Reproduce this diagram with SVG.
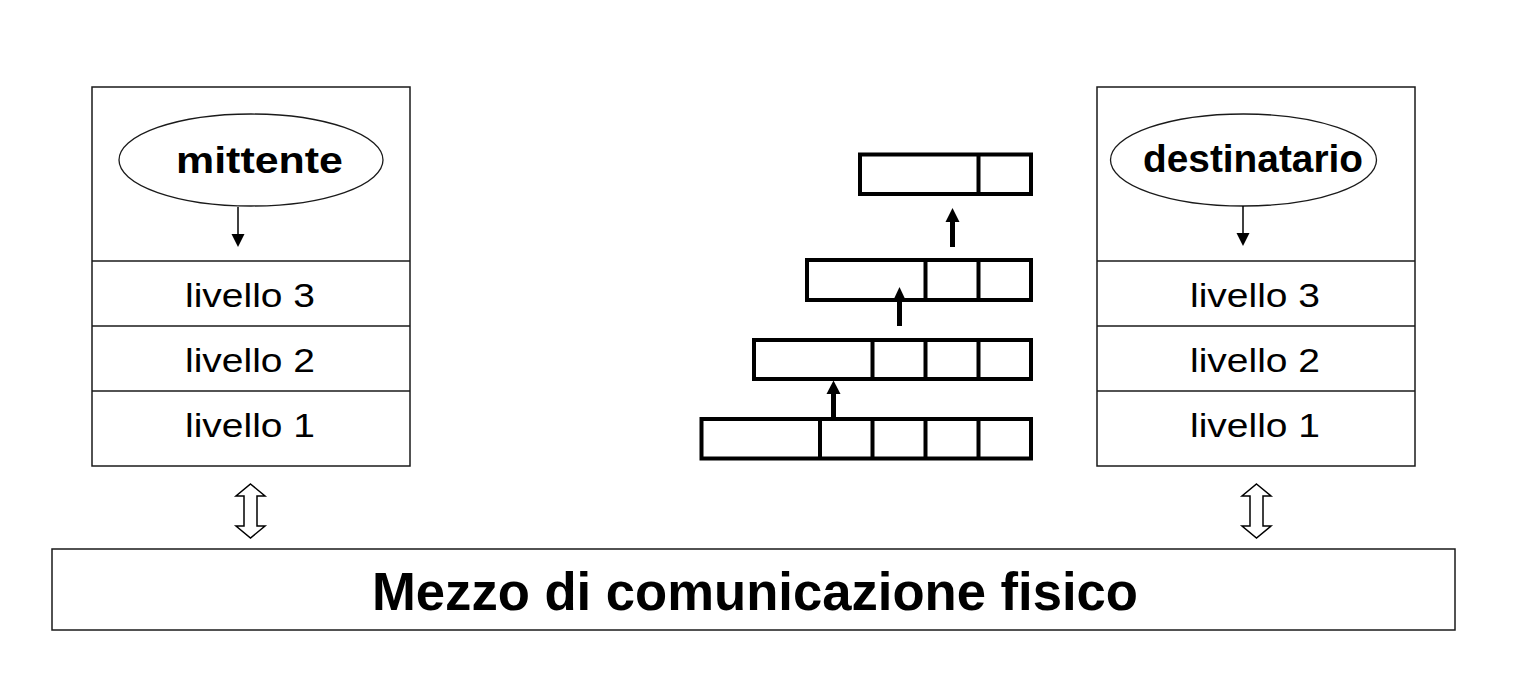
<svg xmlns="http://www.w3.org/2000/svg" width="1526" height="676" viewBox="0 0 1526 676">
<style>
.box{fill:#fff;stroke:#1a1a1a;stroke-width:1.5}
.ell{fill:#fff;stroke:#1a1a1a;stroke-width:1.3}
.lbl{font-family:"Liberation Sans",Arial,sans-serif;font-size:34px;fill:#000;text-anchor:middle}
.bold{font-family:"Liberation Sans",Arial,sans-serif;font-weight:bold;fill:#000}
.pkt{fill:#fff;stroke:#000;stroke-width:4}
.thin{stroke:#000;stroke-width:1.5;fill:none}
.thick{stroke:#000;stroke-width:5;fill:none}
.dbl{fill:#fff;stroke:#000;stroke-width:1.5;stroke-linejoin:miter}
</style>
<rect width="1526" height="676" fill="#fff"/>
<g id="sender">
  <rect class="box" x="92" y="87" width="318" height="379"/>
  <line class="box" x1="92" y1="261" x2="410" y2="261"/>
  <line class="box" x1="92" y1="326" x2="410" y2="326"/>
  <line class="box" x1="92" y1="391" x2="410" y2="391"/>
  <ellipse class="ell" cx="251" cy="160" rx="132" ry="46"/>
  <text class="bold" x="176" y="173" font-size="36" textLength="167" lengthAdjust="spacingAndGlyphs">mittente</text>
  <text class="lbl" x="250" y="307" textLength="130" lengthAdjust="spacingAndGlyphs">livello 3</text>
  <text class="lbl" x="250" y="372" textLength="130" lengthAdjust="spacingAndGlyphs">livello 2</text>
  <text class="lbl" x="250" y="437" textLength="130" lengthAdjust="spacingAndGlyphs">livello 1</text>
</g>
<g id="receiver">
  <rect class="box" x="1097" y="87" width="318" height="379"/>
  <line class="box" x1="1097" y1="261" x2="1415" y2="261"/>
  <line class="box" x1="1097" y1="326" x2="1415" y2="326"/>
  <line class="box" x1="1097" y1="391" x2="1415" y2="391"/>
  <ellipse class="ell" cx="1243.5" cy="160" rx="133" ry="46"/>
  <text class="bold" x="1143" y="172" font-size="39" textLength="220" lengthAdjust="spacingAndGlyphs">destinatario</text>
  <text class="lbl" x="1255" y="307" textLength="130" lengthAdjust="spacingAndGlyphs">livello 3</text>
  <text class="lbl" x="1255" y="372" textLength="130" lengthAdjust="spacingAndGlyphs">livello 2</text>
  <text class="lbl" x="1255" y="437" textLength="130" lengthAdjust="spacingAndGlyphs">livello 1</text>
</g>
<g id="medium">
  <rect class="box" x="52" y="549" width="1403" height="81"/>
  <text class="bold" x="372" y="610" font-size="53" textLength="766" lengthAdjust="spacingAndGlyphs">Mezzo di comunicazione fisico</text>
</g>
<g id="packets">
  <rect class="pkt" x="860" y="154.5" width="171" height="39.5"/>
  <line class="pkt" x1="978.5" y1="154.5" x2="978.5" y2="194"/>
  <rect class="pkt" x="807" y="260" width="224" height="40"/>
  <line class="pkt" x1="925.5" y1="260" x2="925.5" y2="300"/>
  <line class="pkt" x1="978.5" y1="260" x2="978.5" y2="300"/>
  <rect class="pkt" x="754" y="340" width="277" height="39"/>
  <line class="pkt" x1="872.5" y1="340" x2="872.5" y2="379"/>
  <line class="pkt" x1="925.5" y1="340" x2="925.5" y2="379"/>
  <line class="pkt" x1="978.5" y1="340" x2="978.5" y2="379"/>
  <rect class="pkt" x="701.5" y="419" width="329.5" height="39.5"/>
  <line class="pkt" x1="820" y1="419" x2="820" y2="458.5"/>
  <line class="pkt" x1="872.5" y1="419" x2="872.5" y2="458.5"/>
  <line class="pkt" x1="925.5" y1="419" x2="925.5" y2="458.5"/>
  <line class="pkt" x1="978.5" y1="419" x2="978.5" y2="458.5"/>
</g>
<g id="connectors">
  <line class="thin" x1="238" y1="207" x2="238" y2="236"/>
  <polygon points="231.5,234 244.5,234 238,247" fill="#000"/>
  <line class="thin" x1="1243" y1="206" x2="1243" y2="235"/>
  <polygon points="1236.5,233 1249.5,233 1243,246" fill="#000"/>
  <line class="thick" x1="833.5" y1="419" x2="833.5" y2="392"/>
  <polygon points="826.5,394 840.5,394 833.5,380.5" fill="#000"/>
  <line class="thick" x1="899.5" y1="326" x2="899.5" y2="300"/>
  <polygon points="892.5,302 906.5,302 899.5,287" fill="#000"/>
  <line class="thick" x1="952.5" y1="247" x2="952.5" y2="220"/>
  <polygon points="945.5,222 959.5,222 952.5,208" fill="#000"/>
  <path class="dbl" d="M250.5,484 L265,496 L257,496 L257,526 L265,526 L250.5,538 L236,526 L244,526 L244,496 L236,496 Z"/>
  <path class="dbl" d="M1256.5,484 L1271,496 L1263,496 L1263,526 L1271,526 L1256.5,538 L1242,526 L1250,526 L1250,496 L1242,496 Z"/>
</g>
</svg>
